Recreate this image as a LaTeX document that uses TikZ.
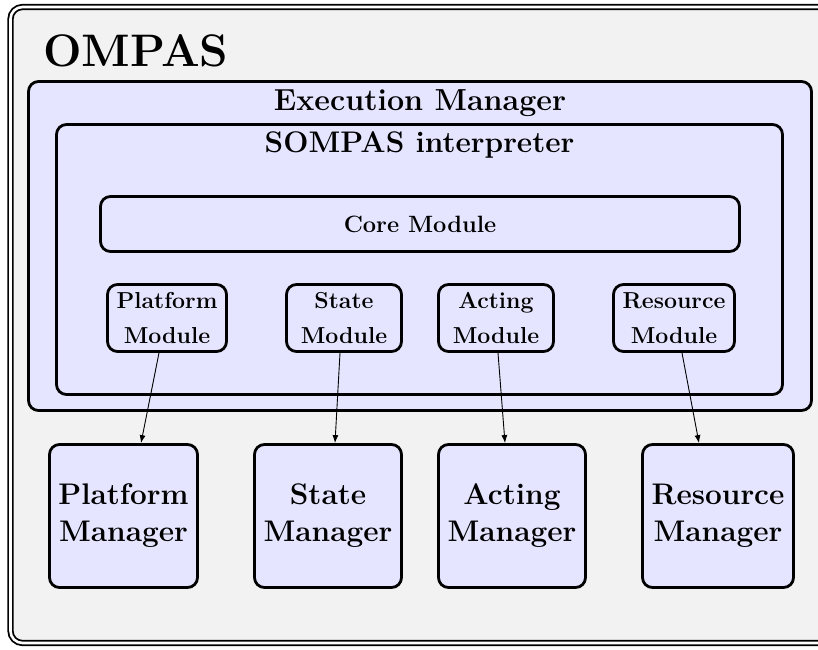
\documentclass[tikz,border=0pt]{standalone}
\usepackage{fontspec}
\usetikzlibrary{arrows.meta}
\tikzset{
  bluebox/.style={draw=black, line width=2.8pt, fill=blue!10, rounded corners=10pt, inner sep=0pt},
  modbox/.style={bluebox, align=center, font=\fontsize{23.1}{35}\selectfont\bfseries},
  manbox/.style={bluebox, align=center, font=\fontsize{29.8}{37}\selectfont\bfseries},
  link/.style={line width=0.9pt, -{Latex[length=8pt,width=6pt]}},
  titletext/.style={inner sep=0pt, anchor=base, font=\fontsize{29.8}{35}\selectfont\bfseries}
}
\begin{document}
\begin{tikzpicture}[x=1pt,y=-1pt]
\useasboundingbox (0,0) rectangle (818,649);
% outer frame
\node[draw=black, double=white, line width=1.8pt, double distance=2.6pt, fill=gray!10,
      rounded corners=12pt, inner sep=0pt, minimum width=831pt, minimum height=636pt]
      (frame) at (426,325) {};
\node[inner sep=0pt, anchor=base west, font=\fontsize{45.6}{50}\selectfont\bfseries] (title) at (43,66) {OMPAS};
% execution manager
\node[bluebox, minimum width=783pt, minimum height=329pt] (exec) at (420,246) {};
\node[titletext, font=\fontsize{30.4}{35}\selectfont\bfseries] (execlabel) at (420,110) {Execution Manager};
% SOMPAS interpreter
\node[bluebox, minimum width=726pt, minimum height=270pt] (sompas) at (419.5,259.5) {};
\node[titletext] (sompaslabel) at (419.5,152.7) {SOMPAS interpreter};
% core module
\node[bluebox, minimum width=639pt, minimum height=55pt, font=\fontsize{23.6}{27}\selectfont\bfseries] (core) at (420,224) {Core Module};
% modules
\node[modbox, minimum width=119pt, minimum height=67pt] (pm) at (167,318) {Platform\\Module};
\node[modbox, minimum width=115pt, minimum height=67pt] (sm) at (344,318) {State\\Module};
\node[modbox, minimum width=115pt, minimum height=67pt] (am) at (496,318) {Acting\\Module};
\node[modbox, minimum width=121pt, minimum height=67pt] (rm) at (674,318) {Resource\\Module};
% managers
\node[manbox, minimum width=148pt, minimum height=143pt] (pman) at (123.5,516) {Platform\\Manager};
\node[manbox, minimum width=147pt, minimum height=143pt] (sman) at (328,516) {State\\Manager};
\node[manbox, minimum width=147pt, minimum height=143pt] (aman) at (512,516) {Acting\\Manager};
\node[manbox, minimum width=151pt, minimum height=143pt] (rman) at (718,516) {Resource\\Manager};
% links
\draw[link] ([xshift=-8pt]pm.south) -- ([xshift=17.5pt]pman.north);
\draw[link] ([xshift=-4pt]sm.south) -- ([xshift=7pt]sman.north);
\draw[link] ([xshift=2pt]am.south) -- ([xshift=-7pt]aman.north);
\draw[link] ([xshift=8pt]rm.south) -- ([xshift=-19pt]rman.north);
\end{tikzpicture}
\end{document}
